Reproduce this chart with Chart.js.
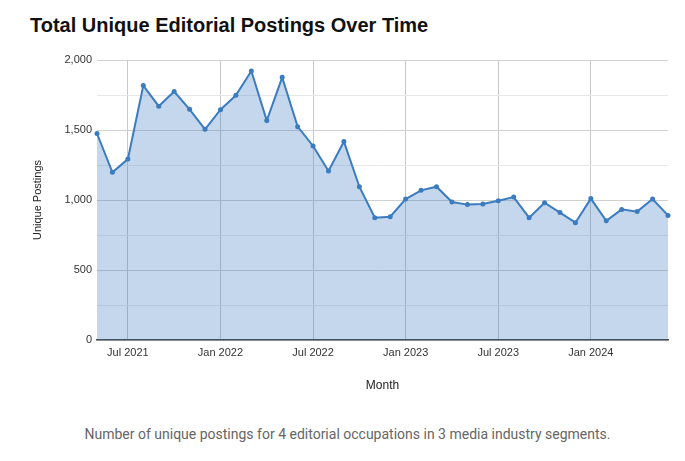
<!DOCTYPE html>
<html>
<head>
<meta charset="utf-8">
<script src="https://cdn.jsdelivr.net/npm/chart.js@4.4.1/dist/chart.umd.min.js"></script>
<style>
  html, body { margin: 0; padding: 0; background: #fff; }
  #wrap { position: relative; width: 685px; height: 461px; overflow: hidden; }
  #title {
    position: absolute; left: 30px; top: 14px;
    font: bold 20px "Liberation Sans", Arial, sans-serif; color: #111;
  }
  #chartBox { position: absolute; left: 0; top: 40px; width: 685px; height: 360px; }
  #caption {
    position: absolute; left: 0; width: 695px; top: 426px; text-align: center;
    font: 14px Roboto, "Noto Sans", sans-serif; color: #666;
  }
</style>
</head>
<body>
<div id="wrap">
  <div id="title">Total Unique Editorial Postings Over Time</div>
  <div id="chartBox"><canvas id="postChart"></canvas></div>
  <div id="caption">Number of unique postings for 4 editorial occupations in 3 media industry segments.</div>
</div>
<script>
// ===========================
// DATA
// ===========================
const months = [
  'May 2021', 'Jun 2021', 'Jul 2021', 'Aug 2021', 'Sep 2021', 'Oct 2021', 'Nov 2021', 'Dec 2021',
  'Jan 2022', 'Feb 2022', 'Mar 2022', 'Apr 2022', 'May 2022', 'Jun 2022', 'Jul 2022', 'Aug 2022',
  'Sep 2022', 'Oct 2022', 'Nov 2022', 'Dec 2022', 'Jan 2023', 'Feb 2023', 'Mar 2023', 'Apr 2023',
  'May 2023', 'Jun 2023', 'Jul 2023', 'Aug 2023', 'Sep 2023', 'Oct 2023', 'Nov 2023', 'Dec 2023',
  'Jan 2024', 'Feb 2024', 'Mar 2024', 'Apr 2024', 'May 2024', 'Jun 2024'
];

const postings = [
  1475, 1198, 1292, 1817, 1670, 1775, 1648, 1505,
  1645, 1748, 1921, 1567, 1876, 1524, 1386, 1207,
  1417, 1095, 874, 881, 1007, 1069, 1095, 986,
  967, 971, 995, 1021, 874, 981, 910, 838,
  1010, 852, 933, 917, 1007, 890
];

const yMax  = 2000;
const yStep = 250;

// ===========================
// CHART
// ===========================
const lineColor = '#3b7cc0';
const isLabeled = label => label.startsWith('Jul') || label.startsWith('Jan');

new Chart(document.getElementById('postChart'), {
  type: 'line',
  data: {
    labels: months,
    datasets: [{
      label: 'Unique Postings',
      data: postings,
      borderColor: lineColor,
      borderWidth: 2,
      backgroundColor: 'rgba(59,124,192,0.3)',
      fill: 'origin',
      tension: 0,
      pointRadius: 2.5,
      pointBackgroundColor: lineColor,
      pointBorderColor: lineColor,
      pointBorderWidth: 0,
      clip: false
    }]
  },
  options: {
    responsive: true,
    maintainAspectRatio: false,
    animation: false,
    layout: { padding: { left: 31, right: 17, top: 20, bottom: 0 } },
    plugins: {
      legend: { display: false },
      tooltip: { enabled: false }
    },
    scales: {
      x: {
        type: 'category',
        offset: false,
        border: { display: true, color: '#444', width: 1.5 },
        grid: {
          drawTicks: false,
          color: ctx => isLabeled(months[ctx.index] || '') ? '#c8c8c8' : 'rgba(0,0,0,0)'
        },
        ticks: {
          autoSkip: false,
          maxRotation: 0,
          padding: 6,
          color: '#333',
          font: { family: 'Liberation Sans', size: 11 },
          callback: (v, i) => isLabeled(months[i]) ? months[i] : ''
        },
        title: {
          display: true,
          text: 'Month',
          color: '#222',
          font: { family: 'Liberation Sans', size: 12 },
          padding: { top: 16, bottom: 7 }
        },
        afterFit: scale => { scale.height = 60; }
      },
      y: {
        min: 0,
        max: yMax,
        border: { display: false },
        grid: {
          drawTicks: false,
          color: ctx => ctx.tick.value % 500 === 0 ? '#d0d0d0' : '#e8e8e8'
        },
        ticks: {
          stepSize: yStep,
          padding: 5,
          color: '#333',
          font: { family: 'Liberation Sans', size: 11 },
          callback: v => v % 500 === 0 ? v.toLocaleString('en-US') : ''
        },
        title: {
          display: true,
          text: 'Unique Postings',
          color: '#222',
          font: { family: 'Liberation Sans', size: 11 },
          padding: 0
        },
        afterFit: scale => { scale.width = 66; }
      }
    }
  }
});
</script>
</body>
</html>
